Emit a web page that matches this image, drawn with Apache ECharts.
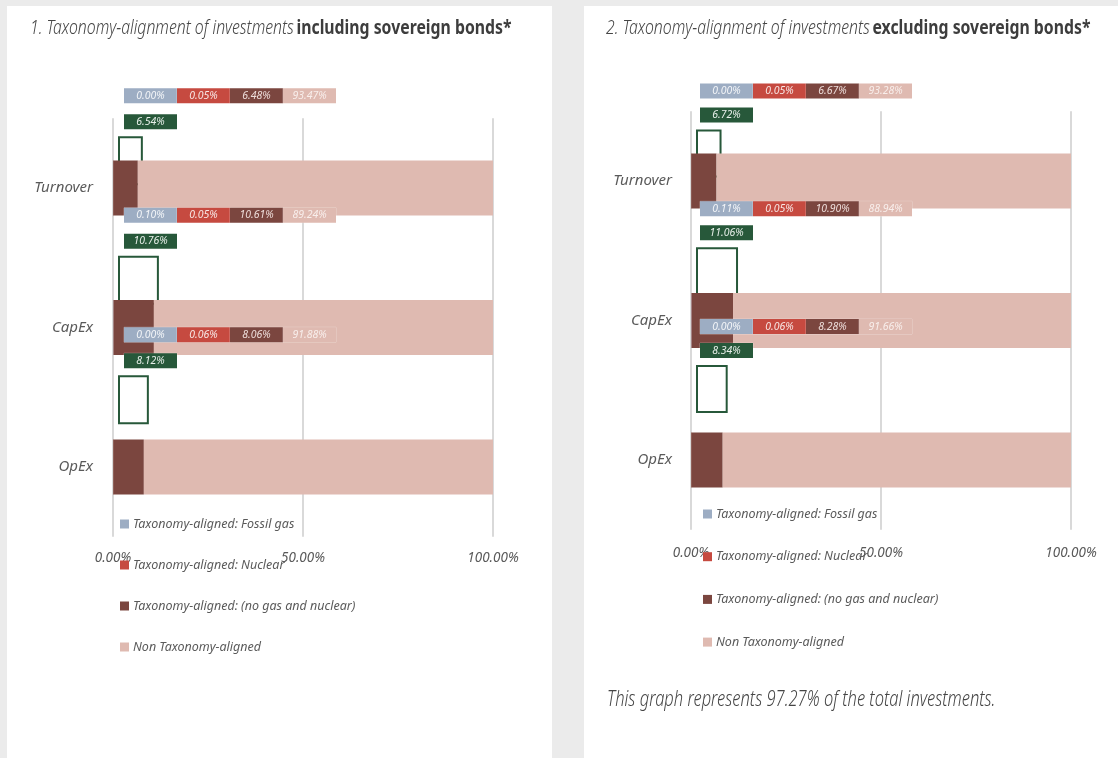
<!DOCTYPE html>
<html>
<head>
<meta charset="utf-8">
<title>Taxonomy-alignment of investments</title>
<script src="https://cdn.jsdelivr.net/npm/echarts@6/dist/echarts.min.js"></script>
<style>
  html, body { margin: 0; padding: 0; background: #ebebeb; width: 1118px; height: 758px; overflow: hidden; }
  .panel { position: absolute; background: #ffffff; }
  #panelLeft { left: 7px; top: 6px; width: 545px; height: 752px; }
  #panelRight { left: 584px; top: 6px; width: 534px; height: 752px; }
  #chart { position: absolute; left: 0; top: 0; width: 1118px; height: 758px; }
</style>
</head>
<body>
<div class="panel" id="panelLeft"></div>
<div class="panel" id="panelRight"></div>
<div id="chart"></div>
<script>
// Categories and series values (percent of investments)
const categories = ['Turnover', 'CapEx', 'OpEx'];

// 1. including sovereign bonds
const inclFossilGas = [0.00, 0.10, 0.00];
const inclNuclear   = [0.05, 0.05, 0.06];
const inclNoGasNuc  = [6.48, 10.61, 8.06];
const inclNonAligned = [93.47, 89.24, 91.88];
const inclTotalAligned = [6.54, 10.76, 8.12];

// 2. excluding sovereign bonds
const exclFossilGas = [0.00, 0.11, 0.00];
const exclNuclear   = [0.05, 0.05, 0.06];
const exclNoGasNuc  = [6.67, 10.90, 8.28];
const exclNonAligned = [93.28, 88.94, 91.66];
const exclTotalAligned = [6.72, 11.06, 8.34];

// Axis ticks
const tickValues = [0, 50, 100];
const tickLabels = ['0.00%', '50.00%', '100.00%'];

const seriesNames = [
  'Taxonomy-aligned: Fossil gas',
  'Taxonomy-aligned: Nuclear',
  'Taxonomy-aligned: (no gas and nuclear)',
  'Non Taxonomy-aligned'
];
const coverageNote = 'This graph represents 97.27% of the total investments.';

const FONT = "'Noto Sans', 'Open Sans', sans-serif";
const C_GAS = '#9dadc3';
const C_NUC = '#c64a40';
const C_ALN = '#7b463f';
const C_NON = '#dfbab1';
const C_GREEN = '#27583a';
const C_TEXT = '#5a5a5a';
const C_GRID = '#d9d9d9';

const pct = v => v.toFixed(2) + '%';

const chart = echarts.init(document.getElementById('chart'), null, { renderer: 'canvas' });

function boxStyle(bg, fg) {
  return {
    width: 53, height: 15, lineHeight: 15, align: 'center',
    backgroundColor: bg, color: fg,
    fontFamily: FONT, fontStyle: 'italic', fontWeight: 'normal', fontSize: 10.5,
    borderColor: 'rgba(255,255,255,0.35)', borderWidth: 0.5
  };
}

// One panel: main stacked bars + overlaid total boxes with their value labels
function panel(cfg) {
  const g = cfg.gridBase;
  const stack = cfg.stack;
  const main = [
    { name: seriesNames[0], data: cfg.gas, color: C_GAS },
    { name: seriesNames[1], data: cfg.nuc, color: C_NUC },
    { name: seriesNames[2], data: cfg.aln, color: C_ALN },
    { name: seriesNames[3], data: cfg.non, color: C_NON }
  ].map(s => ({
    type: 'bar', name: s.name, stack: stack,
    xAxisIndex: g, yAxisIndex: g,
    data: s.data, barWidth: 55, z: 2, silent: true,
    itemStyle: { color: s.color }
  }));

  const rowFormatter = p => {
    const i = p.dataIndex;
    return '{g|' + pct(cfg.gas[i]) + '}{n|' + pct(cfg.nuc[i]) + '}{a|' +
      pct(cfg.aln[i]) + '}{x|' + pct(cfg.non[i]) + '}';
  };

  const overlay = [
    {
      type: 'bar', name: 'totalBox', xAxisIndex: g + 1, yAxisIndex: g + 1,
      data: cfg.total, barWidth: cfg.boxH, barGap: '-100%', z: 1, silent: true,
      itemStyle: { color: '#ffffff', borderColor: C_GREEN, borderWidth: 2 }
    },
    {
      type: 'bar', name: 'totalLabel', xAxisIndex: g + 1, yAxisIndex: g + 1,
      data: cfg.total, barWidth: cfg.boxH, barGap: '-100%', z: 5, silent: true,
      itemStyle: { color: 'rgba(0,0,0,0)' },
      label: {
        show: true, position: [cfg.dx, cfg.greenDy],
        formatter: p => '{t|' + pct(p.value) + '}',
        rich: { t: boxStyle(C_GREEN, '#e6eee8') }
      }
    },
    {
      type: 'bar', name: 'rowLabel', xAxisIndex: g + 1, yAxisIndex: g + 1,
      data: cfg.total, barWidth: cfg.boxH, barGap: '-100%', z: 5, silent: true,
      itemStyle: { color: 'rgba(0,0,0,0)' },
      label: {
        show: true, position: [cfg.dx, cfg.rowDy],
        formatter: rowFormatter,
        rich: {
          g: boxStyle(C_GAS, '#f3f5f8'),
          n: boxStyle(C_NUC, '#f7e6e4'),
          a: boxStyle(C_ALN, '#eddcd9'),
          x: boxStyle(C_NON, '#f8eeeb')
        }
      }
    }
  ];
  return main.concat(overlay);
}

const left = {
  gridBase: 0, stack: 'incl', dx: 6, rowDy: -48, greenDy: -22, boxH: 49,
  gas: inclFossilGas, nuc: inclNuclear, aln: inclNoGasNuc, non: inclNonAligned, total: inclTotalAligned
};
const right = {
  gridBase: 2, stack: 'excl', dx: 4, rowDy: -46, greenDy: -22, boxH: 48,
  gas: exclFossilGas, nuc: exclNuclear, aln: exclNoGasNuc, non: exclNonAligned, total: exclTotalAligned
};

function valueAxis(gridIndex, margin) {
  return {
    type: 'value', gridIndex: gridIndex, min: 0, max: 100, interval: 50,
    axisLine: { show: false }, axisTick: { show: false },
    splitLine: { show: true, lineStyle: { color: C_GRID, width: 2 } },
    axisLabel: {
      margin: margin, color: C_TEXT, fontFamily: FONT, fontStyle: 'italic', fontWeight: 'normal', fontSize: 13.5,
      formatter: v => tickLabels[tickValues.indexOf(v)]
    }
  };
}
function hiddenValueAxis(gridIndex) {
  return { type: 'value', gridIndex: gridIndex, min: 0, max: 100, show: false, splitLine: { show: false } };
}
function catAxis(gridIndex, margin) {
  return {
    type: 'category', gridIndex: gridIndex, data: categories, inverse: true,
    axisLine: { show: false }, axisTick: { show: false }, splitLine: { show: false },
    axisLabel: { margin: margin, color: C_TEXT, fontFamily: FONT, fontStyle: 'italic', fontWeight: 'normal', fontSize: 15 }
  };
}
function hiddenCatAxis(gridIndex) {
  return { type: 'category', gridIndex: gridIndex, data: categories, inverse: true, show: false };
}

function legend(leftPx, topPx, gap) {
  return {
    orient: 'vertical', left: leftPx, top: topPx, itemGap: gap,
    itemWidth: 9, itemHeight: 9, icon: 'rect', selectedMode: false,
    data: seriesNames,
    textStyle: { color: C_TEXT, fontFamily: FONT, fontStyle: 'italic', fontWeight: 'normal', fontSize: 12.5, lineHeight: 14, padding: [0, 0, 0, -1] }
  };
}

// Panel headings and the coverage note, set in a narrowed face
const titleRich = {
  i: { fontFamily: FONT, fontStyle: 'italic', fontWeight: 300, fontSize: 20, fill: '#454545' },
  b: { fontFamily: FONT, fontStyle: 'normal', fontWeight: 'bold', fontSize: 20, fill: '#3d3d3d' }
};
function heading(x, y, num, lead, bold) {
  return {
    type: 'text', x: x, y: y, scaleX: 0.79, silent: true,
    style: { text: '{i|' + num + '. ' + lead + '} {b|' + bold + '}', rich: titleRich, verticalAlign: 'middle', align: 'left' }
  };
}

const option = {
  animation: false,
  backgroundColor: 'transparent',
  graphic: [
    heading(30, 28, 1, 'Taxonomy-alignment of investments', 'including sovereign bonds*'),
    heading(606, 28, 2, 'Taxonomy-alignment of investments', 'excluding sovereign bonds*'),
    {
      type: 'text', x: 607, y: 700, scaleX: 0.75, silent: true,
      style: { text: coverageNote, fontFamily: FONT, fontStyle: 'italic', fontWeight: 300, fontSize: 22,
               fill: '#454545', verticalAlign: 'middle', align: 'left' }
    }
  ],
  legend: [legend(115, 512, 27), legend(698, 502, 28.7)],
  grid: [
    { left: 113, top: 118.25, width: 380, height: 418.5 },
    { left: 118, top: 101, width: 380, height: 358.5 },
    { left: 691, top: 111.25, width: 380, height: 418.5 },
    { left: 696, top: 94.6, width: 380, height: 353.4 }
  ],
  xAxis: [valueAxis(0, 14.5), hiddenValueAxis(1), valueAxis(2, 16.7), hiddenValueAxis(3)],
  yAxis: [catAxis(0, 20), hiddenCatAxis(1), catAxis(2, 19), hiddenCatAxis(3)],
  series: panel(left).concat(panel(right))
};

chart.setOption(option);
</script>
</body>
</html>
